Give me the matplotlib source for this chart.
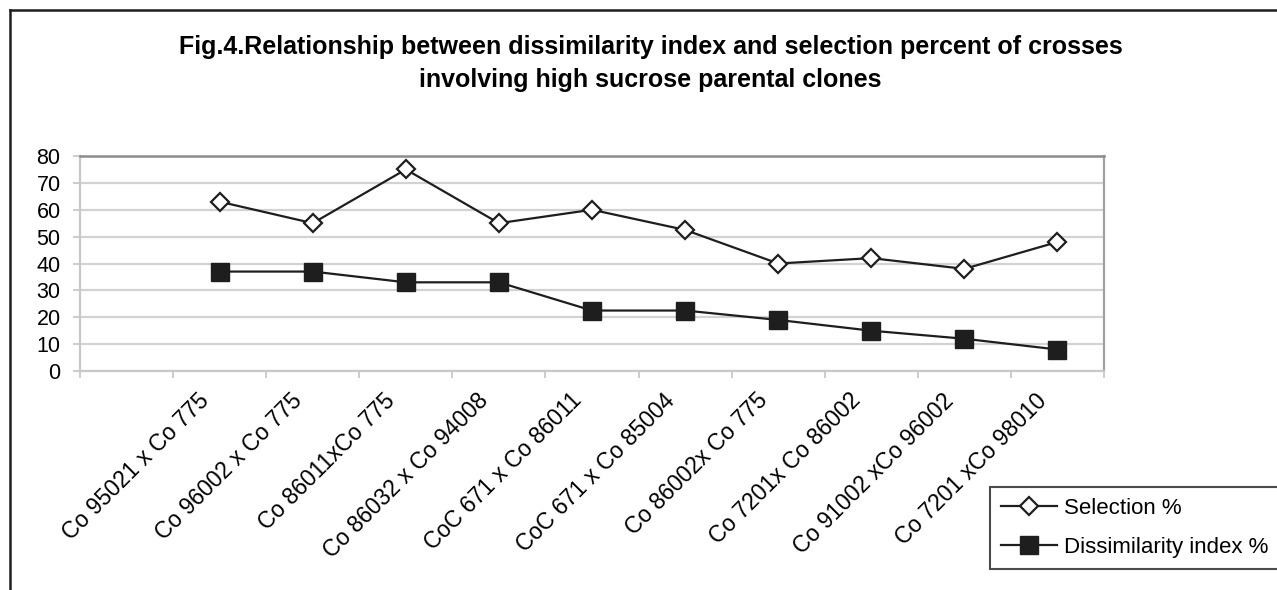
import numpy as np
import matplotlib
matplotlib.use("Agg")
import matplotlib.pyplot as plt
from matplotlib.lines import Line2D
from matplotlib.transforms import ScaledTranslation

plt.rcParams['font.family'] = ['Liberation Sans', 'DejaVu Sans']

# first slot on the category axis is left empty
crosses = ['', 'Co 95021 x Co 775', 'Co 96002 x Co 775', 'Co 86011xCo 775',
           'Co 86032 x Co 94008', 'CoC 671 x Co 86011', 'CoC 671 x Co 85004',
           'Co 86002x Co 775', 'Co 7201x Co 86002', 'Co 91002 xCo 96002',
           'Co 7201 xCo 98010']
selection = [np.nan, 63, 55, 75, 55, 60, 52.5, 40, 42, 38, 48]
dissimilarity = [np.nan, 37, 37, 33, 33, 22.5, 22.5, 19, 15, 12, 8]
yticks = [0, 10, 20, 30, 40, 50, 60, 70, 80]

W, H = 1277, 590
fig = plt.figure(figsize=(W / 100, H / 100), dpi=100)
ax = fig.add_axes([80 / W, 1 - 371 / H, (1104 - 80) / W, (371 - 156) / H])

x = np.arange(len(crosses))
ax.plot(x, selection, color='#1e1e1e', lw=1.6, marker='D', ms=9,
        mfc='white', mec='#1e1e1e', mew=1.6, label='Selection %', zorder=3)
ax.plot(x, dissimilarity, color='#1e1e1e', lw=1.6, marker='s', ms=13.5,
        mfc='#1e1e1e', mec='#1e1e1e', label='Dissimilarity index %', zorder=3)

ax.set_xlim(-0.5, len(crosses) - 0.5)
ax.set_ylim(0, 80)
ax.set_yticks(yticks)
ax.yaxis.grid(True, color='#d2d2d2', lw=1.6)
ax.set_axisbelow(True)

# tick marks on the category boundaries
ax.set_xticks(np.arange(-0.5, len(crosses), 1.0))
ax.set_xticklabels([])
ax.tick_params(axis='x', length=5, width=1.3, color='#c8c8c8')
ax.tick_params(axis='y', length=5, width=1.3, color='#c8c8c8', pad=9,
               labelsize=15.5)

# slanted category names, right end just left of each category centre
shift = ScaledTranslation(-0.22, -0.18, fig.dpi_scale_trans)
for i, name in enumerate(crosses):
    ax.text(i, 0, name, transform=ax.get_xaxis_transform() + shift,
            rotation=45, ha='right', va='top', rotation_mode='anchor',
            fontsize=16.5, clip_on=False)

for side in ['left', 'bottom']:
    ax.spines[side].set_color('#c8c8c8')
    ax.spines[side].set_linewidth(1.6)
ax.spines['top'].set_color('#8c8c8c')
ax.spines['top'].set_linewidth(1.8)
ax.spines['right'].set_color('#a0a0a0')
ax.spines['right'].set_linewidth(1.6)

fig.text(651 / W, 1 - 47 / H,
         'Fig.4.Relationship between dissimilarity index and selection percent of crosses',
         ha='center', va='center', fontsize=18, fontweight='bold')
fig.text(650 / W, 1 - 80 / H, 'involving high sucrose parental clones',
         ha='center', va='center', fontsize=18, fontweight='bold')

leg = ax.legend(loc='upper left', bbox_to_anchor=(990 / W, 1 - 487 / H),
                bbox_transform=fig.transFigure, borderaxespad=0,
                fontsize=16, frameon=True, fancybox=False, handlelength=2.5,
                handletextpad=0.35, borderpad=0.5, labelspacing=0.8)
leg.get_frame().set_edgecolor('#1e1e1e')
leg.get_frame().set_linewidth(1.5)

# outer frame of the figure panel
fig.add_artist(Line2D([10 / W, 10 / W], [0, 1 - 10 / H], color='#1e1e1e',
                      lw=1.8, transform=fig.transFigure))
fig.add_artist(Line2D([10 / W, 1], [1 - 10 / H, 1 - 10 / H], color='#1e1e1e',
                      lw=1.8, transform=fig.transFigure))

fig.savefig('out.png', dpi=100)
